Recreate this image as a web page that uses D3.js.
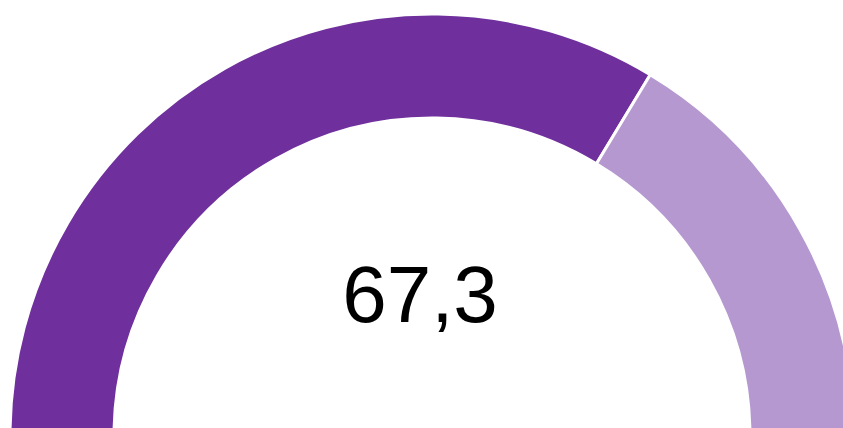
<!DOCTYPE html>
<html>
<head>
<meta charset="utf-8">
<script src="https://cdn.jsdelivr.net/npm/d3@7"></script>
<style>
  body { margin: 0; background: #fff; }
  svg { display: block; }
</style>
</head>
<body>
<svg></svg>
<script>
// gauge data
const labels = ["value", "rest"];
const values = [67.3, 32.7];
const colors = ["#6f309d", "#b598d0"];
const centerLabel = "67,3";

const width = 843, height = 428;
const svg = d3.select("svg")
    .attr("width", width)
    .attr("height", height);

const cx = 432, cy = 436;
const outerR = 422, innerR = 318;

const g = svg.append("g")
    .attr("transform", `translate(${cx}, ${cy})`);

const pie = d3.pie()
    .sort(null)
    .startAngle(-Math.PI / 2)
    .endAngle(Math.PI / 2)
    .value(d => d);

const arc = d3.arc()
    .innerRadius(innerR)
    .outerRadius(outerR);

g.selectAll("path")
    .data(pie(values))
    .enter()
    .append("path")
    .attr("d", arc)
    .attr("fill", (d, i) => colors[i])
    .attr("stroke", "#fff")
    .attr("stroke-width", 3);

svg.append("text")
    .attr("x", 420)
    .attr("y", 322)
    .attr("text-anchor", "middle")
    .attr("font-family", "Liberation Sans, Arial, sans-serif")
    .attr("font-size", 80)
    .attr("fill", "#000")
    .text(centerLabel);
</script>
</body>
</html>
